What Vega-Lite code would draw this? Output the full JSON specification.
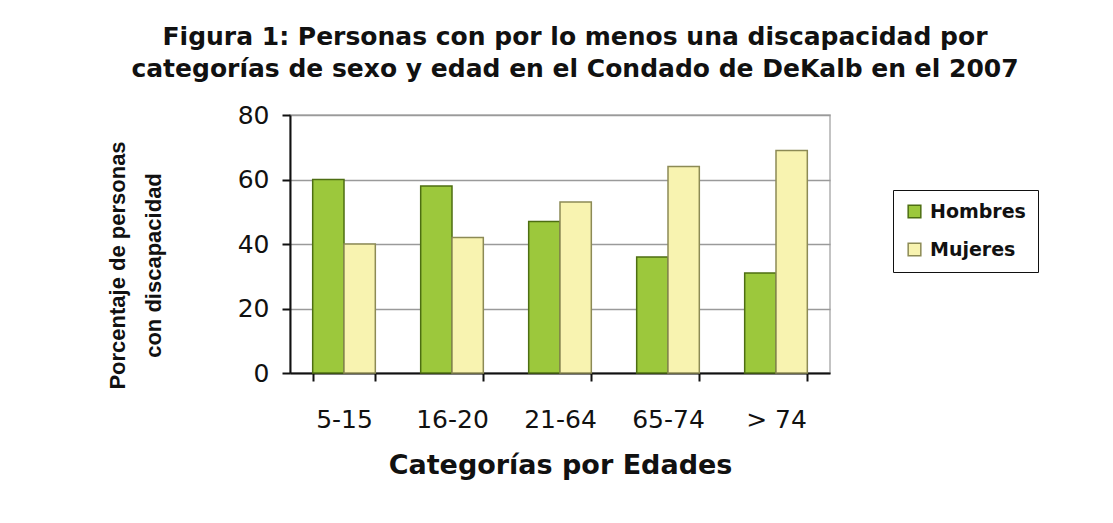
{
  "$schema": "https://vega.github.io/schema/vega-lite/v6.json",
  "autosize": {"type": "none"},
  "width": 540,
  "height": 258,
  "padding": {"left": 290, "top": 115, "right": 283, "bottom": 150},
  "background": "white",
  "title": {
    "text": ["Figura 1: Personas con por lo menos una discapacidad por", "categorías de sexo y edad en el Condado de DeKalb en el 2007"],
    "font": "DejaVu Sans",
    "fontSize": 25,
    "fontWeight": "bold",
    "color": "#111",
    "lineHeight": 32,
    "anchor": "middle",
    "dx": 15,
    "offset": 21
  },
  "data": {
    "values": [
      {"edad": "5-15", "sexo": "Hombres", "pct": 60},
      {"edad": "5-15", "sexo": "Mujeres", "pct": 40},
      {"edad": "16-20", "sexo": "Hombres", "pct": 58},
      {"edad": "16-20", "sexo": "Mujeres", "pct": 42},
      {"edad": "21-64", "sexo": "Hombres", "pct": 47},
      {"edad": "21-64", "sexo": "Mujeres", "pct": 53},
      {"edad": "65-74", "sexo": "Hombres", "pct": 36},
      {"edad": "65-74", "sexo": "Mujeres", "pct": 64},
      {"edad": "> 74", "sexo": "Hombres", "pct": 31},
      {"edad": "> 74", "sexo": "Mujeres", "pct": 69}
    ]
  },
  "mark": {"type": "bar", "strokeWidth": 1.5},
  "encoding": {
    "x": {
      "field": "edad",
      "type": "nominal",
      "sort": ["5-15", "16-20", "21-64", "65-74", "> 74"],
      "scale": {"paddingInner": 0.42, "paddingOuter": 0.21},
      "axis": {
        "title": "Categorías por Edades",
        "labelAngle": 0,
        "labelFont": "DejaVu Sans",
        "labelFontSize": 25,
        "labelColor": "#111",
        "labelPadding": 26,
        "tickBand": "extent",
        "tickSize": 8,
        "tickColor": "#111",
        "tickWidth": 2,
        "domainColor": "#111",
        "domainWidth": 2,
        "titleFont": "DejaVu Sans",
        "titleFontSize": 27,
        "titleFontWeight": "bold",
        "titleColor": "#111",
        "titlePadding": 20
      }
    },
    "xOffset": {"field": "sexo", "type": "nominal", "scale": {"paddingInner": 0, "paddingOuter": 0}},
    "y": {
      "field": "pct",
      "type": "quantitative",
      "scale": {"domain": [0, 80]},
      "axis": {
        "title": ["Porcentaje de personas", "con discapacidad"],
        "values": [0, 20, 40, 60, 80],
        "labelFont": "DejaVu Sans",
        "labelFontSize": 25,
        "labelColor": "#111",
        "labelPadding": 13,
        "tickSize": 8,
        "tickColor": "#111",
        "tickWidth": 2,
        "domainColor": "#111",
        "domainWidth": 2,
        "grid": true,
        "gridColor": "#9a9a9a",
        "gridWidth": 1.5,
        "titleFont": "Liberation Sans",
        "titleFontSize": 22,
        "titleFontWeight": "bold",
        "titleColor": "#111",
        "titleLineHeight": 36,
        "titlePadding": 72,
        "titleY": 150
      }
    },
    "fill": {
      "field": "sexo",
      "type": "nominal",
      "scale": {"domain": ["Hombres", "Mujeres"], "range": ["#9cc83c", "#f8f3b0"]},
      "legend": {
        "title": null,
        "orient": "none",
        "legendX": 603,
        "legendY": 75,
        "strokeColor": "#111",
        "padding": 12,
        "symbolType": "square",
        "symbolSize": 160,
        "symbolStrokeColor": "#333",
        "symbolStrokeWidth": 1.5,
        "labelFont": "DejaVu Sans",
        "labelFontSize": 19,
        "labelFontWeight": "bold",
        "labelColor": "#111",
        "rowPadding": 18,
        "labelOffset": 6
      }
    },
    "stroke": {
      "field": "sexo",
      "type": "nominal",
      "scale": {"domain": ["Hombres", "Mujeres"], "range": ["#4d6e12", "#8c8a55"]},
      "legend": null
    }
  },
  "config": {
    "view": {"stroke": "#b0b0b0", "strokeWidth": 1.5}
  }
}
